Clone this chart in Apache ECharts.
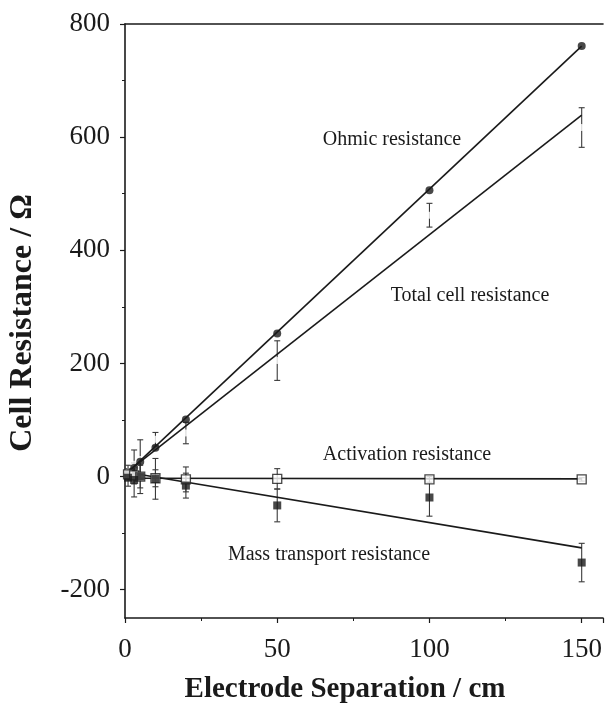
<!DOCTYPE html>
<html>
<head>
<meta charset="utf-8">
<script src="https://cdn.jsdelivr.net/npm/echarts@6/dist/echarts.min.js"></script>
<style>
html,body{margin:0;padding:0;background:#fff;}
#chart{width:606px;height:711px;}
</style>
</head>
<body>
<div id="chart"></div>
<script>
// ---- data ----
const separations = [1, 3, 5, 10, 20, 50, 100, 150];
const ohmicValues = [5, 15, 26, 51, 101, 253, 506, 761];
const totalValues = [8, 22, 30, 66, 77, 205, 462, 617];
const totalErrors = [12, 25, 35, 12, 19, 35, 21, 35];
const activationValues = [4, 2, 0, -3, -5, -4, -5, -5];
const activationErrors = [10, 15, 20, 15, 22, 18, 5, 3];
const massValues = [-2, -6, 0, -4, -16, -51, -37, -152];
const massErrors = [15, 30, 30, 36, 22, 29, 33, 34];

const ohmicFit = [[1, 8], [150, 761]];
const totalFit = [[1, 9], [150, 639]];
const activationFit = [[0, -3], [150, -4]];
const massFit = [[0, 8], [150, -126]];

const xTicks = [0, 50, 100, 150];
const yTicks = [-200, 0, 200, 400, 600, 800];
const yMinorTicks = [-100, 100, 300, 500, 700];

const seriesLabels = ['Ohmic resistance', 'Total cell resistance', 'Activation resistance', 'Mass transport resistance'];

// ---- build ----
const pts = (vals) => separations.map((x, i) => [x, vals[i]]);
const errs = (vals, e) => separations.map((x, i) => [x, vals[i] - e[i], vals[i] + e[i]]);

const INK = '#1a1a1a';
const FONT = 'Liberation Serif';

function renderErr(params, api) {
  const x = api.value(0), lo = api.value(1), hi = api.value(2);
  const a = api.coord([x, lo]), b = api.coord([x, hi]);
  const c = 3;
  const st = {stroke: '#3a3a3a', lineWidth: 1.1};
  return {type: 'group', children: [
    {type: 'line', shape: {x1: a[0], y1: a[1], x2: b[0], y2: b[1]}, style: st},
    {type: 'line', shape: {x1: a[0]-c, y1: a[1], x2: a[0]+c, y2: a[1]}, style: st},
    {type: 'line', shape: {x1: b[0]-c, y1: b[1], x2: b[0]+c, y2: b[1]}, style: st}
  ]};
}

const chart = echarts.init(document.getElementById('chart'), null, {renderer: 'canvas'});

const lineStyle = {color: INK, width: 1.6};
const axisLineStyle = {color: INK, width: 1.6};

const labelPos = [
  {cx: 392, cy: 140},
  {cx: 470, cy: 296},
  {cx: 407, cy: 455},
  {cx: 329, cy: 555}
];

const option = {
  animation: false,
  backgroundColor: '#fff',
  grid: {left: 125, right: 0, top: 24, bottom: 93, containLabel: false},
  xAxis: [{
    type: 'value', min: 0, max: 157, interval: 50,
    axisLine: {show: true, onZero: false, lineStyle: axisLineStyle},
    axisTick: {show: true, length: 5, inside: false, lineStyle: {color: INK, width: 1.2}},
    minorTick: {show: true, splitNumber: 2, length: 3, lineStyle: {color: INK, width: 1}},
    splitLine: {show: false},
    axisLabel: {
      margin: 18, color: INK, fontFamily: FONT, fontSize: 27,
      formatter: (v) => xTicks.indexOf(v) >= 0 ? String(v) : ''
    }
  }, {
    type: 'value', min: 0, max: 157, position: 'top',
    axisLine: {show: true, onZero: false, lineStyle: axisLineStyle},
    axisTick: {show: false}, axisLabel: {show: false}, splitLine: {show: false}
  }],
  yAxis: [{
    type: 'value', min: -250, max: 800,
    axisLine: {show: true, onZero: false, lineStyle: axisLineStyle},
    axisTick: {show: true, length: 5, customValues: yTicks, lineStyle: {color: INK, width: 1.2}},
    axisLabel: {margin: 15, color: INK, fontFamily: FONT, fontSize: 27, customValues: yTicks},
    splitLine: {show: false}
  }, {
    type: 'value', min: -250, max: 800, position: 'left',
    axisLine: {show: false},
    axisTick: {show: true, length: 3, customValues: yMinorTicks, lineStyle: {color: INK, width: 1}},
    axisLabel: {show: false, customValues: yMinorTicks},
    splitLine: {show: false}
  }],
  graphic: [
    {type: 'text', x: 345, y: 690, style: {text: 'Electrode Separation / cm', fontFamily: FONT, fontWeight: 'bold', fontSize: 29, fill: INK, textAlign: 'center', textVerticalAlign: 'middle'}},
    {type: 'text', x: 23, y: 323, rotation: Math.PI / 2, style: {text: 'Cell Resistance / Ω', fontFamily: FONT, fontWeight: 'bold', fontSize: 32, fill: INK, textAlign: 'center', textVerticalAlign: 'middle'}}
  ].concat(seriesLabels.map((t, i) => ({type: 'text', x: labelPos[i].cx, y: labelPos[i].cy,
    style: {text: t, fontFamily: FONT, fontSize: 20, fill: INK, textAlign: 'center', textVerticalAlign: 'middle'}}))),
  series: [
    {type: 'custom', name: 'Total err', renderItem: renderErr, data: errs(totalValues, totalErrors), z: 1, encode: {x: 0, y: [1, 2]}},
    {type: 'custom', name: 'Activation err', renderItem: renderErr, data: errs(activationValues, activationErrors), z: 1, encode: {x: 0, y: [1, 2]}},
    {type: 'custom', name: 'Mass err', renderItem: renderErr, data: errs(massValues, massErrors), z: 1, encode: {x: 0, y: [1, 2]}},
    {type: 'scatter', name: 'Total cell resistance', data: pts(totalValues), symbol: 'circle', symbolSize: 7,
      itemStyle: {color: '#fff', borderColor: '#fff', borderWidth: 0}, z: 2},
    {type: 'line', data: ohmicFit, symbol: 'none', lineStyle: lineStyle, z: 3},
    {type: 'line', data: totalFit, symbol: 'none', lineStyle: lineStyle, z: 3},
    {type: 'line', data: activationFit, symbol: 'none', lineStyle: lineStyle, z: 3},
    {type: 'line', data: massFit, symbol: 'none', lineStyle: lineStyle, z: 3},
    {type: 'scatter', name: 'Ohmic resistance', data: pts(ohmicValues), symbol: 'circle', symbolSize: 8,
      itemStyle: {color: INK}, z: 4},
    {type: 'scatter', name: 'Activation resistance', data: pts(activationValues), symbol: 'rect', symbolSize: 9,
      itemStyle: {color: '#fff', borderColor: INK, borderWidth: 1.3}, z: 4},
    {type: 'scatter', name: 'Mass transport resistance', data: pts(massValues), symbol: 'rect', symbolSize: 8,
      itemStyle: {color: INK}, z: 5}
  ]
};
chart.setOption(option);
</script>
</body>
</html>
